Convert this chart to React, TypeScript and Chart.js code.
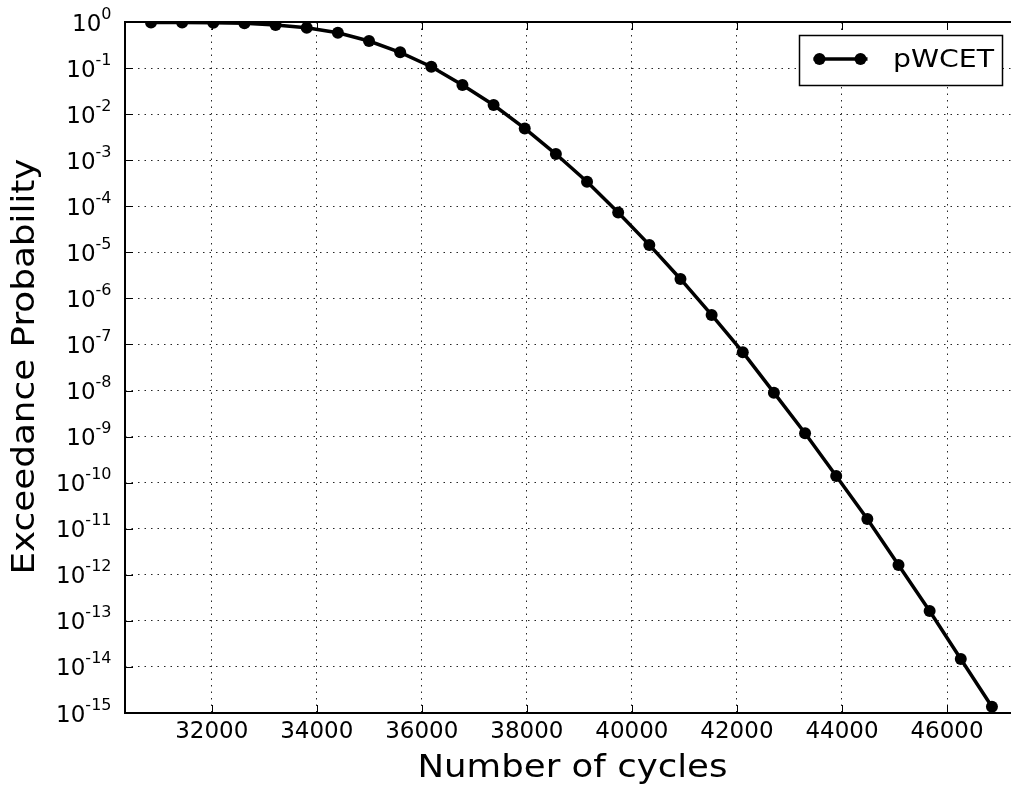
import React, { useEffect, useRef } from "react";
import { Chart, registerables } from "chart.js";

Chart.register(...registerables);

// ---- data ----
const cycles = [
  30844, 31437, 32030, 32623, 33216, 33809, 34402, 34995, 35588, 36181,
  36774, 37367, 37960, 38553, 39146, 39739, 40332, 40925, 41518, 42111,
  42704, 43297, 43890, 44483, 45076, 45669, 46262, 46855,
];
const exceedanceProbability = [
  0.98, 0.97, 0.96, 0.94, 0.86, 0.75, 0.586, 0.387, 0.22, 0.107,
  0.043, 0.0158, 4.9e-3, 1.36e-3, 3.42e-4, 7.3e-5, 1.45e-5, 2.64e-6, 4.37e-7, 6.8e-8,
  9.0e-9, 1.18e-9, 1.4e-10, 1.62e-11, 1.64e-12, 1.64e-13, 1.49e-14, 1.37e-15,
];
const xTickValues = [32000, 34000, 36000, 38000, 40000, 42000, 44000, 46000];
const yTickExponents = [0, -1, -2, -3, -4, -5, -6, -7, -8, -9, -10, -11, -12, -13, -14, -15];
const xRange = [30349, 47218];
const yRange = [1e-15, 1];
const seriesName = "pWCET";
const xAxisTitle = "Number of cycles";
const yAxisTitle = "Exceedance Probability";

const FONT = '"DejaVu Sans", "Liberation Sans", sans-serif';

// draw text centred at (x, y) horizontally stretched to a target width
function drawWide(
  ctx: CanvasRenderingContext2D,
  text: string,
  x: number,
  y: number,
  font: string,
  targetWidth: number,
  rotate = 0
) {
  ctx.save();
  ctx.font = font;
  ctx.textAlign = "center";
  ctx.textBaseline = "alphabetic";
  const w = ctx.measureText(text).width;
  ctx.translate(x, y);
  if (rotate) ctx.rotate(rotate);
  ctx.scale(targetWidth / w, 1);
  ctx.fillText(text, 0, 0);
  ctx.restore();
}

const decorPlugin = {
  id: "decor",
  afterDraw(chart: any) {
    const { ctx, chartArea: a, scales } = chart;
    const xs = scales.x;
    const ys = scales.y;
    ctx.save();
    ctx.strokeStyle = "#000";
    ctx.fillStyle = "#000";

    // inward tick marks
    ctx.lineWidth = 1;
    ctx.beginPath();
    for (const v of xTickValues) {
      const px = Math.round(xs.getPixelForValue(v)) + 0.5;
      ctx.moveTo(px, a.bottom);
      ctx.lineTo(px, a.bottom - 8);
      ctx.moveTo(px, a.top);
      ctx.lineTo(px, a.top + 8);
    }
    for (const e of yTickExponents) {
      const py = Math.round(ys.getPixelForValue(Math.pow(10, e))) + 0.5;
      ctx.moveTo(a.left, py);
      ctx.lineTo(a.left + 8, py);
    }
    ctx.stroke();

    // spines
    ctx.lineWidth = 2;
    ctx.beginPath();
    ctx.moveTo(a.right + 2, a.top);
    ctx.lineTo(a.left, a.top);
    ctx.lineTo(a.left, a.bottom);
    ctx.lineTo(a.right + 2, a.bottom);
    ctx.stroke();

    // y tick labels 10^n
    ctx.textAlign = "left";
    ctx.textBaseline = "alphabetic";
    for (const e of yTickExponents) {
      const py = ys.getPixelForValue(Math.pow(10, e));
      const base = "10";
      const exp = String(e);
      ctx.font = `23px ${FONT}`;
      const bw = ctx.measureText(base).width;
      ctx.font = `16px ${FONT}`;
      const ew = ctx.measureText(exp).width;
      const right = a.left - 13.5;
      ctx.font = `23px ${FONT}`;
      ctx.fillText(base, right - ew - bw, py + 8.5);
      ctx.font = `16px ${FONT}`;
      ctx.fillText(exp, right - ew, py - 3.5);
    }

    // axis titles
    drawWide(ctx, xAxisTitle, (a.left + a.right) / 2 + 4.5, a.bottom + 64, `32px ${FONT}`, 310);
    drawWide(ctx, yAxisTitle, 34, (a.top + a.bottom) / 2 - 1, `32px ${FONT}`, 416, -Math.PI / 2);

    // legend
    const ds = chart.data.datasets[0];
    const bx = a.right - 211.5;
    const by = a.top + 13.5;
    ctx.fillStyle = "#fff";
    ctx.fillRect(bx, by, 203, 50);
    ctx.lineWidth = 1.5;
    ctx.strokeStyle = "#000";
    ctx.strokeRect(bx, by, 203, 50);
    const ly = by + 23.5;
    ctx.strokeStyle = ds.borderColor;
    ctx.lineWidth = ds.borderWidth;
    ctx.beginPath();
    ctx.moveTo(bx + 14, ly);
    ctx.lineTo(bx + 68, ly);
    ctx.stroke();
    ctx.fillStyle = ds.pointBackgroundColor;
    for (const cx of [bx + 20, bx + 61]) {
      ctx.beginPath();
      ctx.arc(cx, ly, ds.pointRadius, 0, Math.PI * 2);
      ctx.fill();
    }
    ctx.fillStyle = "#000";
    drawWide(ctx, seriesName, bx + 144, by + 31, `24px ${FONT}`, 101);

    ctx.restore();
  },
};

export default function App() {
  const canvasRef = useRef<HTMLCanvasElement | null>(null);

  useEffect(() => {
    const canvas = canvasRef.current;
    if (!canvas) return;
    const points = cycles.map((x, i) => ({ x, y: exceedanceProbability[i] }));
    const chart = new Chart(canvas, {
      type: "scatter",
      data: {
        datasets: [
          {
            label: seriesName,
            data: points,
            showLine: true,
            borderColor: "#000",
            backgroundColor: "#000",
            pointBackgroundColor: "#000",
            pointBorderColor: "#000",
            pointBorderWidth: 0,
            borderWidth: 3.5,
            pointRadius: 6,
            pointHoverRadius: 6,
            clip: 0,
          } as any,
        ],
      },
      options: {
        animation: false,
        responsive: false,
        devicePixelRatio: 1,
        events: [],
        layout: { padding: { left: 0, top: 22, right: 0, bottom: 0 }, autoPadding: false } as any,
        plugins: {
          legend: { display: false },
          tooltip: { enabled: false },
        },
        scales: {
          x: {
            type: "linear",
            position: "bottom",
            min: xRange[0],
            max: xRange[1],
            afterBuildTicks: (s: any) => {
              s.ticks = xTickValues.map((v) => ({ value: v }));
            },
            afterFit: (s: any) => {
              s.height = 76;
            },
            grid: {
              display: true,
              color: "rgba(0,0,0,0.85)",
              lineWidth: 1,
              drawTicks: false,
            },
            border: { display: false, dash: [1.5, 5] },
            ticks: {
              autoSkip: false,
              maxRotation: 0,
              minRotation: 0,
              padding: 5,
              color: "#000",
              font: { family: FONT, size: 23 },
              callback: (v: any) => String(v),
            },
          },
          y: {
            type: "logarithmic",
            position: "left",
            min: yRange[0],
            max: yRange[1],
            afterBuildTicks: (s: any) => {
              s.ticks = yTickExponents.map((e) => ({ value: Math.pow(10, e) }));
            },
            afterFit: (s: any) => {
              s.width = 125;
            },
            grid: {
              display: true,
              color: "rgba(0,0,0,0.85)",
              lineWidth: 1,
              drawTicks: false,
            },
            border: { display: false, dash: [1.5, 5] },
            ticks: { display: false },
          },
        },
      } as any,
      plugins: [decorPlugin],
    });
    return () => chart.destroy();
  }, []);

  return (
    <div style={{ position: "absolute", left: 0, top: 0, width: 1011, height: 789, background: "#fff" }}>
      <canvas
        ref={canvasRef}
        width={1011}
        height={789}
        style={{ display: "block", width: 1011, height: 789 }}
      />
    </div>
  );
}
